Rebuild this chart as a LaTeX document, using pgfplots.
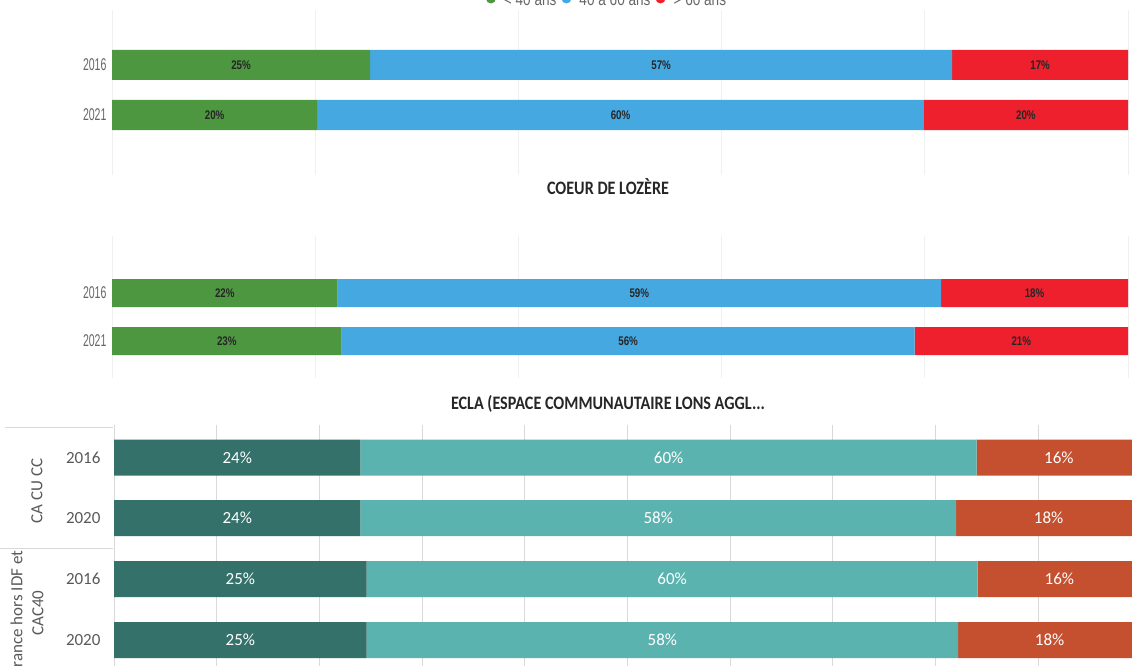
\documentclass[border=0pt]{standalone}
\usepackage{pgfplots}
\pgfplotsset{compat=1.18}
\usepackage{fontspec}
\setmainfont{Carlito}
\newfontfamily\condy[FakeStretch=0.62]{Liberation Sans}
\newfontfamily\condl[FakeStretch=0.8]{Liberation Sans}
\newfontfamily\condb[FakeStretch=0.78]{Liberation Sans}
\newfontfamily\titf[FakeStretch=0.85]{Carlito}
\definecolor{pgreen}{HTML}{4E9741}
\definecolor{pblue}{HTML}{45A8E1}
\definecolor{pred}{HTML}{EE202D}
\definecolor{tdark}{HTML}{33716A}
\definecolor{tlight}{HTML}{5BB3B0}
\definecolor{tred}{HTML}{C5502F}
\definecolor{gridA}{HTML}{F0F0F0}
\definecolor{gridB}{HTML}{D9D9D9}
\definecolor{yearA}{HTML}{666666}
\definecolor{yearB}{HTML}{595959}
\pgfplotsset{
  geo1/.style={scale only axis, width=1016pt, height=165pt, xmin=0, xmax=100, ymin=-175, ymax=-10, at={(112pt,-175pt)}, anchor=south west},
  geo2/.style={scale only axis, width=1016pt, height=142pt, xmin=0, xmax=100, ymin=-378, ymax=-236, at={(112pt,-378pt)}, anchor=south west},
  geo3/.style={scale only axis, width=1027pt, height=245pt, xmin=0, xmax=100, ymin=-670, ymax=-425, at={(114pt,-670pt)}, anchor=south west},
  barsA/.style={xbar stacked, axis line style={draw=none}, major tick length=0pt,
    xtick={0,20,...,100}, xticklabels={}, xmajorgrids, grid style={draw=gridA, line width=1pt},
    yticklabel style={font=\condy\fontsize{17}{17}\selectfont, text=yearA, xshift=-2pt}},
  barsB/.style={xbar stacked, axis line style={draw=none}, major tick length=0pt,
    xtick={0,10,...,100}, xticklabels={}, xmajorgrids, grid style={draw=gridB, line width=1pt},
    yticklabel style={font=\fontsize{17}{17}\selectfont, text=yearB, xshift=-10pt}},
  labs/.style={hide axis, clip=false},
  labA/.style={only marks, mark=*, mark size=0pt, mark options={draw=none, fill=none},
    nodes near coords, point meta=explicit symbolic,
    every node near coord/.append style={anchor=center, font=\condb\bfseries\fontsize{12.5}{12.5}\selectfont, text=black!85}},
  labB/.style={only marks, mark=*, mark size=0pt, mark options={draw=none, fill=none},
    nodes near coords, point meta=explicit symbolic,
    every node near coord/.append style={anchor=center, font=\fontsize{17}{17}\selectfont, text=white}},
}
\begin{document}
\begin{tikzpicture}
\useasboundingbox (0,0) rectangle (1132pt,-666pt);
\clip (0,0) rectangle (1132pt,-666pt);

% ---------- Panel 1 ----------
\begin{axis}[geo1, barsA, bar width=30,
  ytick={-115,-65}, yticklabels={2021,2016},
  legend style={draw=none, fill=none, legend columns=3, at={(0.5,1)}, anchor=center,
    yshift=10pt, xshift=-13pt, font=\condl\fontsize{17}{17}\selectfont, text=yearA,
    /tikz/every even column/.append style={column sep=3pt},
    /tikz/every odd column/.append style={column sep=6pt}},
  legend image code/.code={\fill[#1, draw=none] (0pt,0.15em) circle (5pt);}]
\addplot[fill=pgreen, draw=none] coordinates {(25.4,-65) (20.2,-115)};
\addplot[fill=pblue, draw=none] coordinates {(57.3,-65) (59.7,-115)};
\addplot[fill=pred, draw=none] coordinates {(17.3,-65) (20.1,-115)};
\legend{< 40 ans, 40 à 60 ans, > 60 ans}
\end{axis}
\begin{axis}[geo1, labs]
\addplot[labA] coordinates {(12.7,-65) [25\%] (54.05,-65) [57\%] (91.35,-65) [17\%]
  (10.1,-115) [20\%] (50.05,-115) [60\%] (89.95,-115) [20\%]};
\end{axis}

% ---------- Panel 2 ----------
\node[font=\titf\bfseries\fontsize{19}{19}\selectfont, text=black!85] at (608pt,-187pt) {COEUR DE LOZÈRE};
\begin{axis}[geo2, barsA, bar width=28,
  ytick={-341,-293}, yticklabels={2021,2016}]
\addplot[fill=pgreen, draw=none] coordinates {(22.2,-293) (22.6,-341)};
\addplot[fill=pblue, draw=none] coordinates {(59.4,-293) (56.4,-341)};
\addplot[fill=pred, draw=none] coordinates {(18.4,-293) (21.0,-341)};
\end{axis}
\begin{axis}[geo2, labs]
\addplot[labA] coordinates {(11.1,-293) [22\%] (51.9,-293) [59\%] (90.8,-293) [18\%]
  (11.3,-341) [23\%] (50.8,-341) [56\%] (89.5,-341) [21\%]};
\end{axis}

% ---------- Panel 3 ----------
\node[font=\titf\bfseries\fontsize{19}{19}\selectfont, text=black!85] at (608pt,-404pt) {ECLA (ESPACE COMMUNAUTAIRE LONS AGGL...};
\begin{axis}[geo3, barsB, bar width=36,
  ytick={-640,-579,-518,-457.5}, yticklabels={2020,2016,2020,2016}]
\addplot[fill=tdark, draw=none] coordinates {(24,-457.5) (24,-518) (24.6,-579) (24.6,-640)};
\addplot[fill=tlight, draw=none] coordinates {(60,-457.5) (58,-518) (59.5,-579) (57.6,-640)};
\addplot[fill=tred, draw=none] coordinates {(16,-457.5) (18,-518) (15.9,-579) (17.8,-640)};
\end{axis}
\begin{axis}[geo3, labs]
\addplot[labB] coordinates {(12,-457.5) [24\%] (54,-457.5) [60\%] (92,-457.5) [16\%]
  (12,-518) [24\%] (53,-518) [58\%] (91,-518) [18\%]
  (12.3,-579) [25\%] (54.35,-579) [60\%] (92.05,-579) [16\%]
  (12.3,-640) [25\%] (53.4,-640) [58\%] (91.1,-640) [18\%]};
\end{axis}
\draw[gridB, line width=1pt] (5pt,-427pt) -- (113pt,-427pt);
\draw[gridB, line width=1pt] (0pt,-548pt) -- (113pt,-548pt);
\node[rotate=90, font=\fontsize{17}{17}\selectfont, text=yearB] at (37pt,-491pt) {CA CU CC};
\node[rotate=90, align=center, font=\fontsize{17}{21}\selectfont, text=yearB] at (27pt,-613pt) {France hors IDF et\\CAC40};
\end{tikzpicture}
\end{document}
